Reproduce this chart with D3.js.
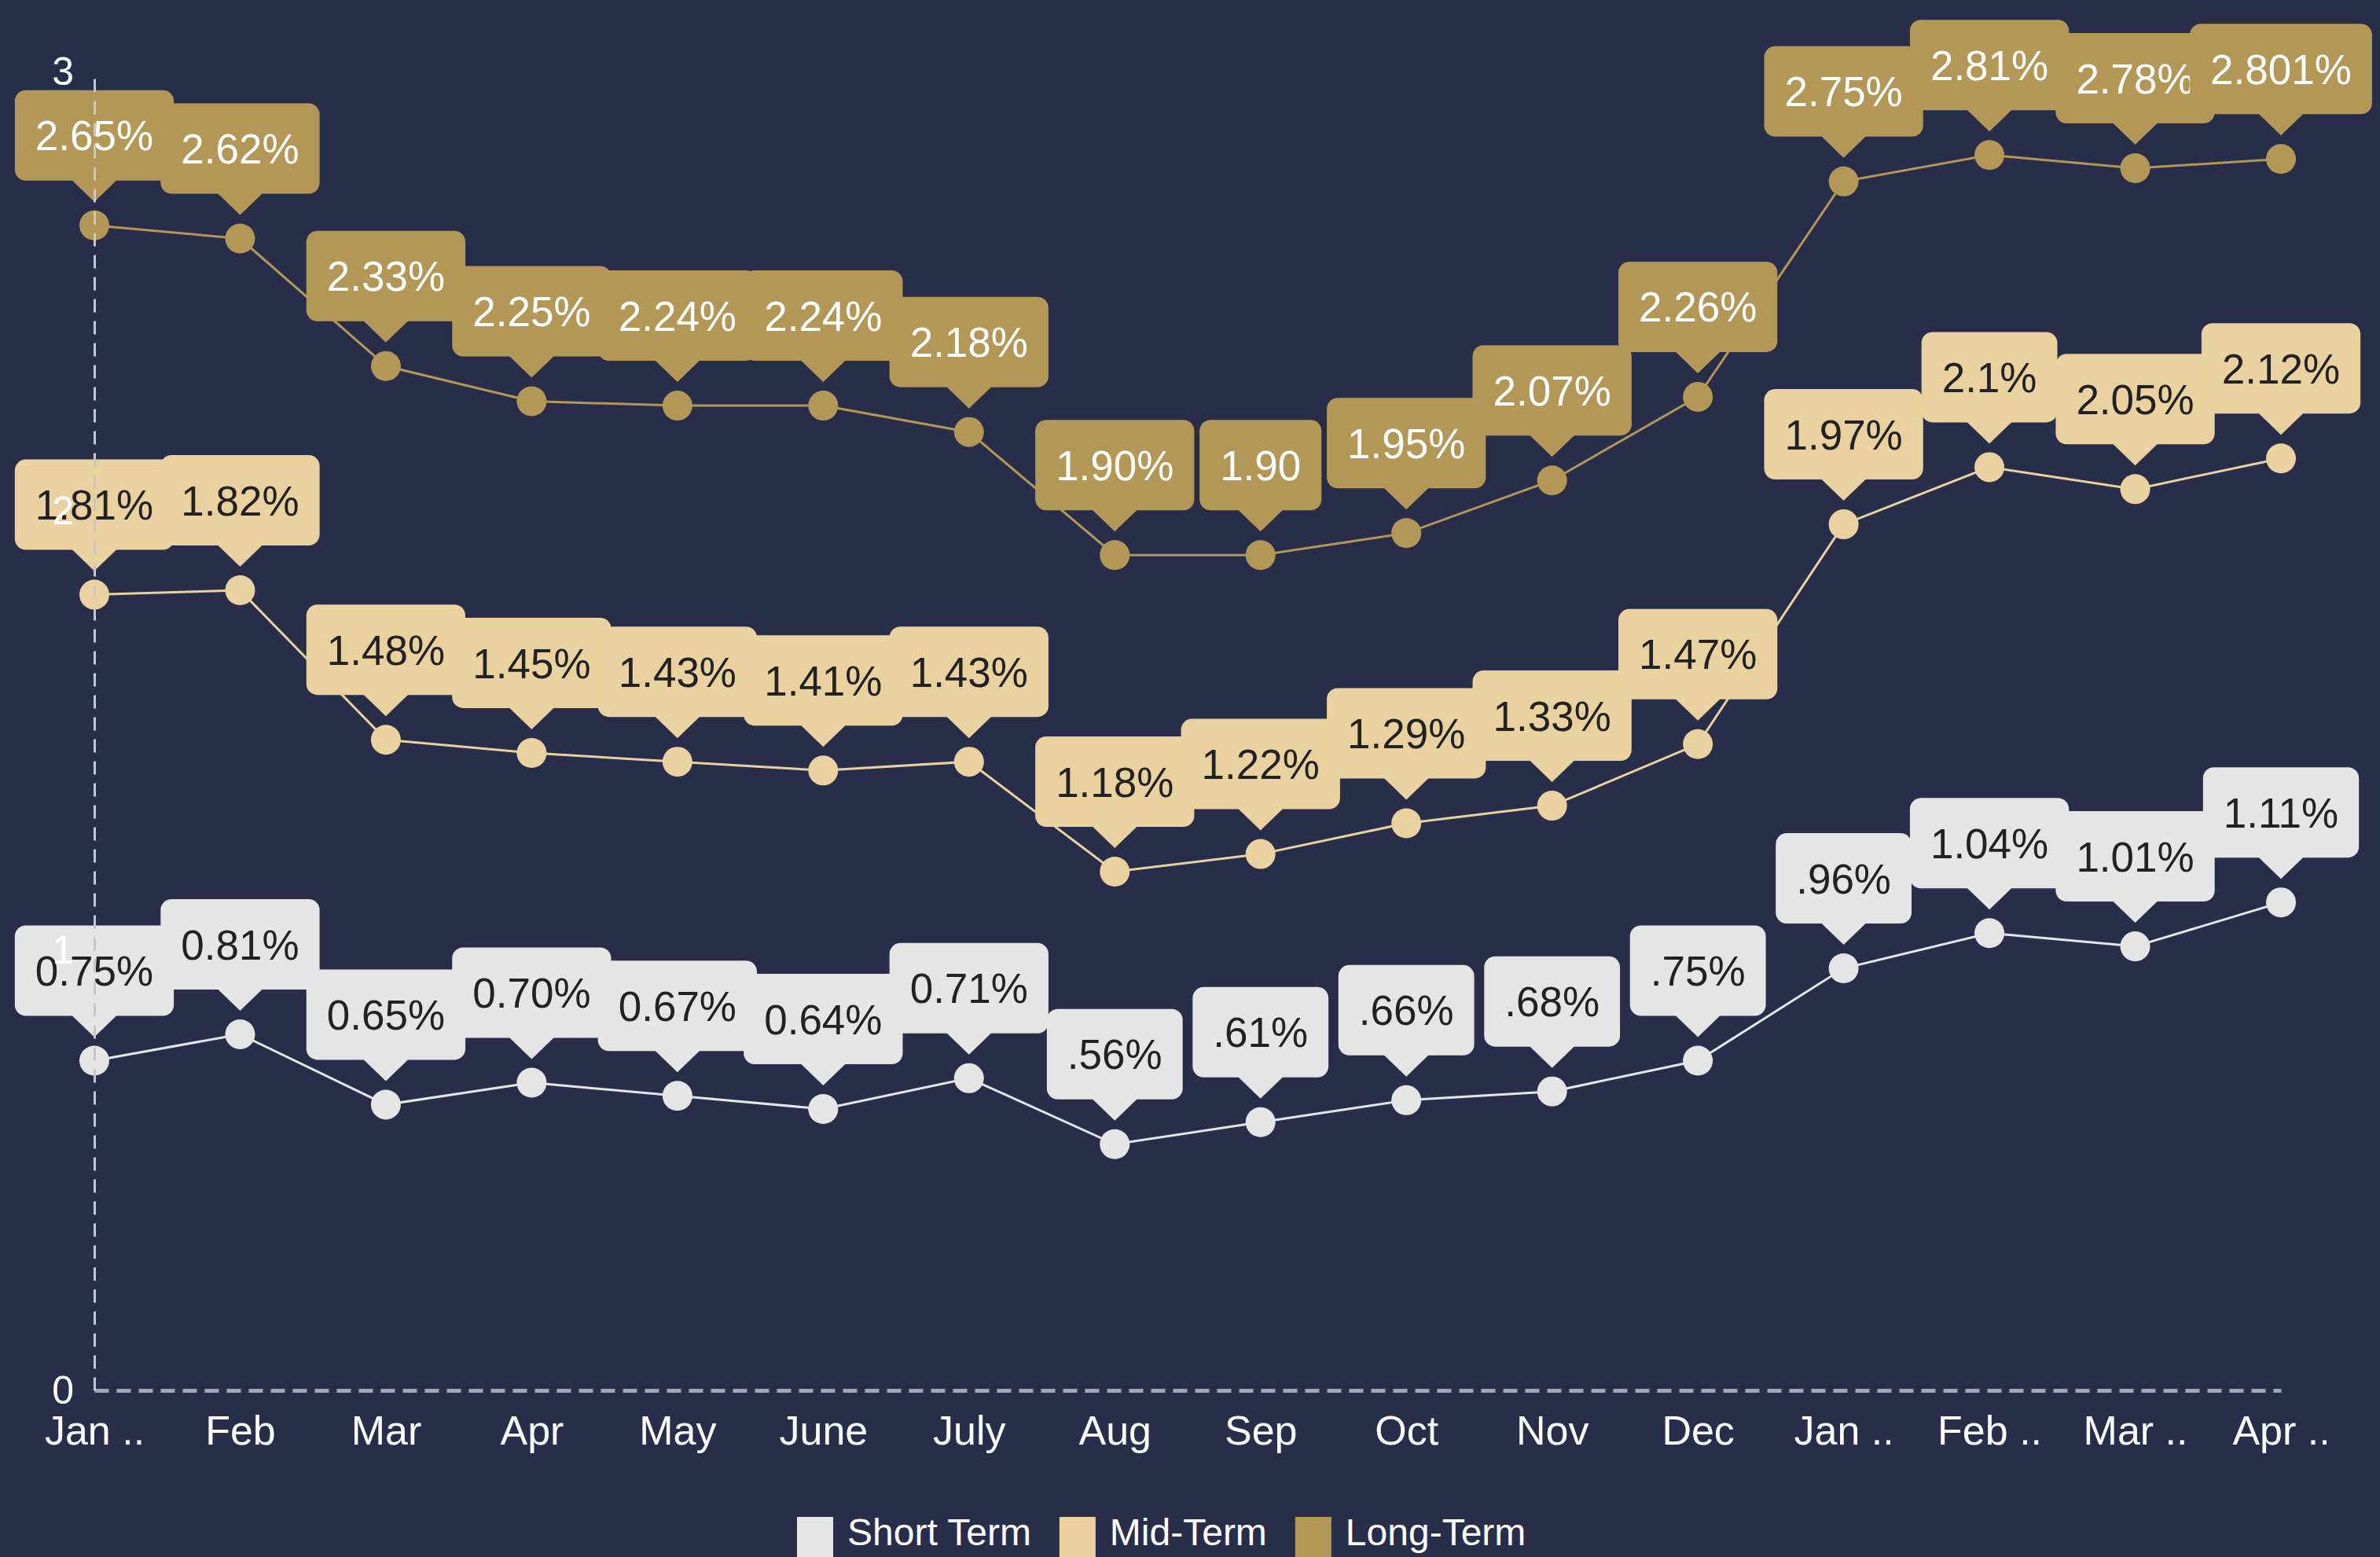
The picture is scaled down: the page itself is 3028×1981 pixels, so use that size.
<!DOCTYPE html>
<html>
<head>
<meta charset="utf-8">
<script src="https://cdn.jsdelivr.net/npm/d3@7"></script>
<style>
  html, body { margin: 0; padding: 0; background: #282e4a; overflow: hidden; }
  text { font-family: "Liberation Sans", Arial, sans-serif; }
</style>
</head>
<body>
<div id="graphDiv"></div>
<script>
var months = ["Jan ..", "Feb", "Mar", "Apr", "May", "June", "July", "Aug", "Sep", "Oct", "Nov", "Dec", "Jan ..", "Feb ..", "Mar ..", "Apr .."];

var shortTerm = [0.75, 0.81, 0.65, 0.70, 0.67, 0.64, 0.71, 0.56, 0.61, 0.66, 0.68, 0.75, 0.96, 1.04, 1.01, 1.11];
var shortLabels = ["0.75%", "0.81%", "0.65%", "0.70%", "0.67%", "0.64%", "0.71%", ".56%", ".61%", ".66%", ".68%", ".75%", ".96%", "1.04%", "1.01%", "1.11%"];

var midTerm = [1.81, 1.82, 1.48, 1.45, 1.43, 1.41, 1.43, 1.18, 1.22, 1.29, 1.33, 1.47, 1.97, 2.10, 2.05, 2.12];
var midLabels = ["1.81%", "1.82%", "1.48%", "1.45%", "1.43%", "1.41%", "1.43%", "1.18%", "1.22%", "1.29%", "1.33%", "1.47%", "1.97%", "2.1%", "2.05%", "2.12%"];

var longTerm = [2.65, 2.62, 2.33, 2.25, 2.24, 2.24, 2.18, 1.90, 1.90, 1.95, 2.07, 2.26, 2.75, 2.81, 2.78, 2.801];
var longLabels = ["2.65%", "2.62%", "2.33%", "2.25%", "2.24%", "2.24%", "2.18%", "1.90%", "1.90", "1.95%", "2.07%", "2.26%", "2.75%", "2.81%", "2.78%", "2.801%"];

var yTicks = [0, 1, 2, 3];

var series = [
  {name: "Short Term", values: shortTerm, labels: shortLabels, color: "#e5e5e5", textColor: "#222222"},
  {name: "Mid-Term", values: midTerm, labels: midLabels, color: "#e9d29f", textColor: "#222222"},
  {name: "Long-Term", values: longTerm, labels: longLabels, color: "#b39757", textColor: "#ffffff"}
];

var width = 3028, height = 1981;

var svg = d3.select("#graphDiv")
  .append("svg")
    .attr("width", width)
    .attr("height", height);

svg.append("rect")
  .attr("width", width)
  .attr("height", height)
  .attr("fill", "#282e4a");

var x = d3.scalePoint()
  .domain(d3.range(months.length))
  .range([120, 2902]);

var y = d3.scaleLinear()
  .domain([0, 3])
  .range([1769, 91]);

var line = d3.line()
  .x(function (d, i) { return x(i); })
  .y(function (d) { return y(d); });

// lines and dots
series.forEach(function (s) {
  svg.append("path")
    .datum(s.values)
    .attr("fill", "none")
    .attr("stroke", s.color)
    .attr("stroke-width", 3)
    .attr("d", line);

  svg.append("g")
    .selectAll("circle")
    .data(s.values)
    .enter()
    .append("circle")
      .attr("cx", function (d, i) { return x(i); })
      .attr("cy", function (d) { return y(d); })
      .attr("r", 19)
      .attr("fill", s.color);
});

// callout labels
var boxH = 115, tipH = 27, tipHalf = 29, gap = 30, padX = 26;

series.forEach(function (s) {
  s.values.forEach(function (v, i) {
    var cx = x(i), cy = y(v);
    var bottom = cy - gap - tipH;
    var top = bottom - boxH;
    var g = svg.append("g");
    var rect = g.append("rect")
      .attr("y", top)
      .attr("height", boxH)
      .attr("rx", 14)
      .attr("fill", s.color);
    g.append("path")
      .attr("d", "M" + (cx - tipHalf) + "," + (bottom - 1) + "L" + (cx + tipHalf) + "," + (bottom - 1) + "L" + cx + "," + (cy - gap) + "Z")
      .attr("fill", s.color);
    var t = g.append("text")
      .attr("x", cx)
      .attr("y", top + boxH / 2)
      .attr("dy", "0.36em")
      .attr("text-anchor", "middle")
      .style("font-size", "53px")
      .attr("fill", s.textColor)
      .text(s.labels[i]);
    var w = t.node().getComputedTextLength() + padX * 2;
    rect.attr("x", cx - w / 2).attr("width", w);
  });
});

// axes on top
var xAxis = svg.append("g")
  .attr("transform", "translate(0," + y(0) + ")")
  .call(d3.axisBottom(x).tickSize(0).tickPadding(32).tickFormat(function (i) { return months[i]; }));

xAxis.select(".domain")
  .attr("stroke", "#a3a6b0")
  .attr("stroke-width", 5)
  .attr("stroke-dasharray", "18,10");

xAxis.selectAll("text")
  .attr("fill", "#ffffff")
  .style("font-size", "52px");

var yAxis = svg.append("g")
  .attr("transform", "translate(120,0)")
  .call(d3.axisLeft(y).tickValues(yTicks).tickFormat(d3.format("d")).tickSize(0).tickSizeOuter(0).tickPadding(26));

yAxis.select(".domain")
  .attr("stroke", "#c4c7d0")
  .attr("stroke-width", 3)
  .attr("stroke-dasharray", "17,11");

yAxis.selectAll("text")
  .attr("fill", "#ffffff")
  .style("font-size", "50px");

// legend
var legend = svg.append("g");
var lx = 1014;
series.forEach(function (s) {
  legend.append("rect")
    .attr("x", lx)
    .attr("y", 1930)
    .attr("width", 46)
    .attr("height", 60)
    .attr("fill", s.color);
  var t = legend.append("text")
    .attr("x", lx + 64)
    .attr("y", 1966)
    .attr("fill", "#ffffff")
    .style("font-size", "48px")
    .text(s.name);
  lx += 64 + t.node().getComputedTextLength() + 36;
});
</script>
</body>
</html>
